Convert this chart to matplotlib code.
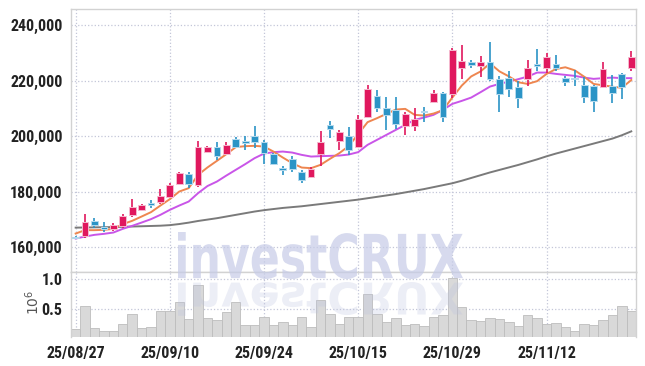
import matplotlib
matplotlib.use("Agg")
import matplotlib.pyplot as plt
from matplotlib.textpath import TextPath
from matplotlib.patches import PathPatch
from matplotlib.font_manager import FontProperties
from matplotlib.transforms import Affine2D
from matplotlib.ticker import FuncFormatter

# ---- data ----
tick_idx = [0, 10, 20, 30, 40, 50]
tick_labels = ['25/08/27', '25/09/10', '25/09/24', '25/10/15', '25/10/29', '25/11/12']

opens = [163800, 164100, 169500, 167400, 166600, 167600, 171500, 173400, 176000, 176500,
         178100, 183000, 186400, 182300, 194500, 196200, 193800, 199100, 198400, 200200,
         197900, 193700, 188600, 191900, 187200, 185500, 193800, 204100, 198500, 200200,
         196000, 206800, 214600, 210300, 209400, 203900, 203900, 209100, 212500, 215600,
         215200, 224800, 226700, 225500, 226900, 220700, 221000, 217800, 220600, 226000,
         224600, 226000, 221000, 221000, 218600, 218200, 217900, 218200, 222400, 224800]
highs = [164000, 172000, 170500, 169100, 168800, 172100, 177400, 175700, 177000, 181000,
         183100, 187100, 187100, 198500, 196600, 197900, 197900, 199600, 200200, 203700,
         198700, 193900, 189400, 193100, 187900, 189100, 202100, 205600, 202200, 203500,
         207700, 218600, 216800, 214300, 214300, 208700, 210200, 210600, 216600, 215900,
         231800, 233000, 227600, 228800, 234000, 221600, 223600, 220000, 227500, 231400,
         230000, 229400, 221600, 224000, 221300, 218600, 226700, 222000, 223000, 230800]
lows = [163300, 163300, 167100, 165700, 165900, 167100, 171100, 173200, 174300, 175800,
        177700, 182300, 181300, 181900, 193900, 191500, 193300, 195700, 195100, 195700,
        190000, 189700, 186100, 187300, 183100, 185100, 189300, 199400, 195100, 193300,
        195700, 206600, 208700, 202300, 202700, 200500, 202000, 205100, 212300, 205100,
        213800, 220600, 224600, 221500, 219800, 208700, 214300, 210200, 218200, 223400,
        223000, 223400, 218300, 218000, 212000, 208700, 217400, 212000, 213300, 223400]
closes = [163500, 169100, 167900, 166600, 168100, 171300, 174600, 175300, 175100, 178600,
          182400, 186700, 183000, 196100, 196100, 193100, 196800, 196200, 197700, 197900,
          194000, 190100, 188000, 188200, 184300, 188300, 198000, 202500, 201500, 195000,
          206300, 217100, 210400, 207700, 204400, 208100, 206400, 208700, 215600, 206800,
          231000, 227200, 225800, 226700, 220800, 215400, 216900, 214000, 224600, 225400,
          228600, 224800, 219500, 220500, 214300, 212900, 224300, 215800, 217900, 228600]

volume = [0.17, 0.55, 0.19, 0.14, 0.15, 0.25, 0.42, 0.19, 0.20, 0.48,
          0.48, 0.62, 0.34, 0.90, 0.35, 0.32, 0.45, 0.62, 0.24, 0.24,
          0.37, 0.24, 0.29, 0.24, 0.37, 0.20, 0.65, 0.43, 0.25, 0.37,
          0.38, 0.76, 0.43, 0.29, 0.35, 0.24, 0.25, 0.22, 0.38, 0.40,
          1.01, 0.53, 0.32, 0.30, 0.35, 0.34, 0.29, 0.22, 0.40, 0.35,
          0.25, 0.27, 0.20, 0.15, 0.25, 0.24, 0.32, 0.40, 0.55, 0.47]

ma5 = [164970, 166190, 166190, 166300, 166660, 168360, 169550, 171100, 172680, 175060,
       177370, 180110, 181330, 186120, 188800, 191170, 193580, 196110, 196470, 196580,
       196330, 194520, 192360, 190340, 188760, 188540, 189730, 191890, 193950, 196500,
       200790, 205120, 206560, 208110, 209660, 209910, 207750, 207500, 208220, 209440,
       214000, 218300, 221600, 223400, 226300, 223430, 221630, 219500, 218900, 219900,
       222500, 224270, 224900, 223800, 221500, 218900, 218400, 217900, 217500, 220300]
ma10 = [163170, 163890, 164500, 164860, 165330, 166660, 167740, 168930, 170160, 171710,
        173510, 175060, 176500, 179530, 182100, 183710, 185870, 187930, 189980, 192140,
        193800, 194310, 194520, 194160, 193330, 192720, 192860, 192970, 193080, 193450,
        194310, 196940, 198740, 200540, 202340, 204140, 205950, 206780, 207750, 209550,
        211710, 212790, 213980, 215930, 217950, 218920, 219750, 220610, 221550, 222990,
        222990, 222520, 222160, 221800, 221190, 220720, 220980, 221190, 220980, 220980]
ma_long = [167100, 167150, 167200, 167250, 167300, 167400, 167500, 167600, 167700, 167800,
           168000, 168400, 168900, 169500, 170000, 170500, 171100, 171700, 172300, 172900,
           173400, 173800, 174200, 174500, 174800, 175200, 175600, 176000, 176400, 176800,
           177200, 177700, 178200, 178700, 179200, 179800, 180400, 181000, 181700, 182400,
           183100, 184000, 185000, 186000, 187000, 187900, 188800, 189700, 190700, 191700,
           192800, 193800, 194700, 195600, 196500, 197400, 198300, 199200, 200400, 201800]

UP = '#e0185e'
DOWN = '#2b94c6'
x = list(range(len(closes)))

lab_font = ['Liberation Sans Narrow', 'Roboto Condensed', 'Liberation Sans']

fig = plt.figure(figsize=(6.45, 3.66), dpi=100)
ax = fig.add_axes([0.110, 0.256, 0.876, 0.7186])
axv = fig.add_axes([0.110, 0.0784, 0.876, 0.1776], sharex=ax)

# moving averages
ax.plot(x, ma_long, color='#7a7a7a', lw=1.4, zorder=2)
ax.plot(x, ma10, color='#c955e8', lw=1.4, zorder=2)
ax.plot(x, ma5, color='#ee8650', lw=1.4, zorder=2)

# candles
for i in x:
    o, h, l, c = opens[i], highs[i], lows[i], closes[i]
    col = UP if c >= o else DOWN
    halo = '#f5b9cf' if c >= o else '#b5daee'
    ax.vlines(i, l, h, color=col, lw=1.2, zorder=3)
    body = max(abs(c - o), 350)
    ax.bar(i, body, bottom=min(o, c), width=0.72, color=col,
           edgecolor=halo, linewidth=0.7, zorder=4)

ax.set_xlim(-0.5, 59.5)
ax.set_ylim(151000, 245800)
ax.set_yticks([160000, 180000, 200000, 220000, 240000])
ax.yaxis.set_major_formatter(FuncFormatter(lambda v, p: f'{int(v):,}'))
ax.grid(True, ls=':', color='#c3c6d8', lw=0.9)
ax.set_axisbelow(True)
ax.tick_params(axis='both', length=0, pad=6, labelcolor='#222222')
ax.tick_params(axis='x', labelbottom=False)
for lab in ax.get_yticklabels():
    lab.set_family(lab_font)
    lab.set_fontweight('bold')
    lab.set_fontsize(11.5)

# volume panel
axv.bar(x, volume, width=1.0, color='#d9d9d9', edgecolor='#bdbdbd', linewidth=0.6, zorder=2)
axv.set_ylim(0.038, 1.11)
axv.set_yticks([0.5, 1.0])
axv.set_yticklabels(['0.5', '1.0'])
axv.set_xticks(tick_idx)
axv.set_xticklabels(tick_labels)
axv.grid(True, ls=':', color='#c3c6d8', lw=0.9)
axv.set_axisbelow(True)
axv.tick_params(axis='both', length=0, pad=6, labelcolor='#222222')
for lab in axv.get_yticklabels() + axv.get_xticklabels():
    lab.set_family(lab_font)
    lab.set_fontweight('bold')
    lab.set_fontsize(11.5)

for a in (ax, axv):
    for s in a.spines.values():
        s.set_color('#d2d2d2')
        s.set_linewidth(1.0)
axv.spines['bottom'].set_visible(False)

fig.text(33 / 645, 1 - 302 / 366, r'$10^6$', rotation=90, color='#555555',
         fontsize=10, ha='center', va='center')

# watermark with reflection
fp = FontProperties(family='DejaVu Sans', weight='bold')
tp = TextPath((0, 0), 'investCRUX', size=100, prop=fp)
ext = tp.get_extents()
sx = 285 / ext.width
sy = 47 / ext.height
to_fig = Affine2D().scale(1 / 100) + fig.dpi_scale_trans
main = Affine2D().translate(-ext.x0, -ext.y0).scale(sx, sy).translate(178, 87)
refl = Affine2D().translate(-ext.x0, -ext.y0).scale(sx, -sy * 0.72).translate(178, 84)
fig.add_artist(PathPatch(main.transform_path(tp), facecolor='#c6cbe7', edgecolor='none',
                         alpha=0.7, transform=to_fig, zorder=5))
fig.add_artist(PathPatch(refl.transform_path(tp), facecolor='#bcc2e0', edgecolor='none',
                         alpha=0.28, transform=to_fig, zorder=5))

fig.savefig('out.png', dpi=100)
